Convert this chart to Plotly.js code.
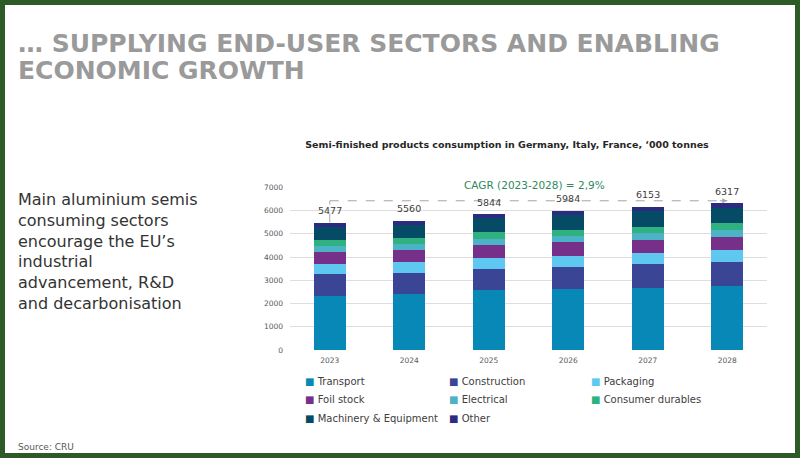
<!DOCTYPE html>
<html><head><meta charset="utf-8">
<script src="https://cdn.plot.ly/plotly-3.0.1.min.js"></script>
<style>
body{margin:0;background:#fff}
#wrap{position:relative;width:800px;height:458px;overflow:hidden}
#chart{width:800px;height:458px}
#frame{position:absolute;left:0;top:0;width:800px;height:458px;box-sizing:border-box;border:5px solid #2e5a27;pointer-events:none}
</style>
</head><body>
<div id="wrap"><div id="chart"></div><div id="frame"></div></div>
<script>
// ---- data ----
const years = ['2023','2024','2025','2026','2027','2028'];
const transport        = [2340, 2420, 2580, 2610, 2680, 2750];
const construction     = [ 930,  905,  915,  975, 1005, 1050];
const packaging        = [ 420,  445,  475,  470,  490,  500];
const foilStock        = [ 510,  515,  545,  575,  575,  575];
const electrical       = [ 255,  270,  260,  270,  285,  285];
const consumerDurables = [ 260,  245,  290,  260,  270,  290];
const machinery        = [ 580,  590,  600,  650,  660,  660];
const other            = [ 182,  170,  179,  174,  188,  207];
const totals           = [5477, 5560, 5844, 5984, 6153, 6317];
const seriesNames = ['Transport','Construction','Packaging','Foil stock','Electrical','Consumer durables','Machinery & Equipment','Other'];
const seriesValues = [transport, construction, packaging, foilStock, electrical, consumerDurables, machinery, other];
const yTicks = [0,1000,2000,3000,4000,5000,6000,7000];
const headline1 = '… SUPPLYING END-USER SECTORS AND ENABLING';
const headline2 = 'ECONOMIC GROWTH';
const chartTitle = 'Semi-finished products consumption in Germany, Italy, France, ‘000 tonnes';
const sideText = ['Main aluminium semis','consuming sectors','encourage the EU’s','industrial','advancement, R&amp;D','and decarbonisation'];
const cagrLabel = 'CAGR (2023-2028) = 2,9%';
const sourceLabel = 'Source: CRU';

// ---- styles / layout ----
const colors = ['#0788b6','#3b4596','#5ec8f0','#76308a','#4cb2c6','#2fb27f','#054b66','#2b2b80'];
const W = 800, H = 458;
const px = x => x / W;
const py = y => 1 - y / H;
const FONT = 'DejaVu Sans, sans-serif';
const cagrLineY = 6420;
const legendColX = [303, 447, 589];
const legendRowY = [381, 399.5, 418];
const firstIdx = 0, lastIdx = years.length - 1;

const traces = seriesNames.map((name, i) => ({
  type: 'bar', name: name, x: years, y: seriesValues[i],
  marker: {color: colors[i], line: {width: 0}},
  showlegend: false, hoverinfo: 'x+y+name'
}));

const annotations = [
  {xref:'paper', yref:'paper', x:px(16), y:py(43), xanchor:'left', yanchor:'middle', showarrow:false,
   text:'<b>'+headline1+'</b>', font:{family:FONT, size:25, color:'#9a9a9a'}},
  {xref:'paper', yref:'paper', x:px(16), y:py(71), xanchor:'left', yanchor:'middle', showarrow:false,
   text:'<b>'+headline2+'</b>', font:{family:FONT, size:25, color:'#9a9a9a'}},
  {xref:'paper', yref:'paper', x:px(16), y:py(251), xanchor:'left', yanchor:'middle', align:'left', showarrow:false,
   text: sideText.join('<br>'), font:{family:FONT, size:16, color:'#333333'}},
  {xref:'paper', yref:'paper', x:px(16), y:py(447), xanchor:'left', yanchor:'middle', showarrow:false,
   text: sourceLabel, font:{family:FONT, size:9, color:'#595959'}},
  {xref:'paper', yref:'paper', x:px(534), y:py(185), xanchor:'center', yanchor:'middle', showarrow:false,
   text: cagrLabel, font:{family:FONT, size:10.5, color:'#2f8a60'}},
  {xref:'x', yref:'y', x: lastIdx, y: cagrLineY, ax: -9, ay: 0, axref:'pixel', ayref:'pixel',
   text:'', showarrow:true, arrowhead:2, arrowsize:1, arrowwidth:1, arrowcolor:'#a6a6a6'}
];
years.forEach((yr, i) => {
  annotations.push({xref:'x', yref:'y', x: i, y: totals[i], yshift: 12, showarrow:false,
    xanchor:'center', yanchor:'middle', text: String(totals[i]),
    font:{family:FONT, size:9.5, color:'#404040'}});
});
// legend (3 columns x 3 rows, as in the reference)
seriesNames.forEach((name, i) => {
  annotations.push({xref:'paper', yref:'paper', x: px(legendColX[i % 3]), y: py(legendRowY[Math.floor(i / 3)]),
    xanchor:'left', yanchor:'middle', showarrow:false,
    text: '<span style="color:' + colors[i] + '">■</span> ' + name.replace('&', '&amp;'),
    font:{family:FONT, size:10, color:'#404040'}});
});

const shapes = [
  {type:'line', xref:'x', yref:'y', x0: firstIdx, x1: firstIdx, y0: totals[0], y1: cagrLineY,
   line:{color:'#a6a6a6', width:1, dash:'dash'}},
  {type:'line', xref:'x', yref:'y', x0: firstIdx, x1: lastIdx, y0: cagrLineY, y1: cagrLineY,
   line:{color:'#a6a6a6', width:1, dash:'dash'}}
];

const layout = {
  width: W, height: H,
  margin: {l:0, r:0, t:0, b:0},
  paper_bgcolor:'#ffffff', plot_bgcolor:'#ffffff',
  barmode:'stack', bargap: 0.6,
  font:{family:FONT, color:'#404040'},
  showlegend:false,
  title:{text:'<b>'+chartTitle+'</b>', x: px(507), y: py(145), xanchor:'center', yanchor:'middle',
    font:{family:FONT, size:9.5, color:'#262626'}},
  xaxis:{domain:[px(290), px(767)], type:'category', range:[-0.5, years.length - 0.5], autorange:false,
    showgrid:false, zeroline:false, showline:false,
    ticks:'', ticklabelstandoff: 4, tickfont:{family:FONT, size:7.5, color:'#595959'}},
  yaxis:{domain:[py(350), py(187.3)], range:[0,7000], autorange:false, tickvals:yTicks, showgrid:true, gridcolor:'#dedede',
    gridwidth:1, zeroline:false, showline:false, ticks:'', ticklabelstandoff: 6,
    tickfont:{family:FONT, size:7.5, color:'#595959'}},
  annotations: annotations,
  shapes: shapes
};

Plotly.newPlot('chart', traces, layout, {displayModeBar:false});
</script>
</body></html>
